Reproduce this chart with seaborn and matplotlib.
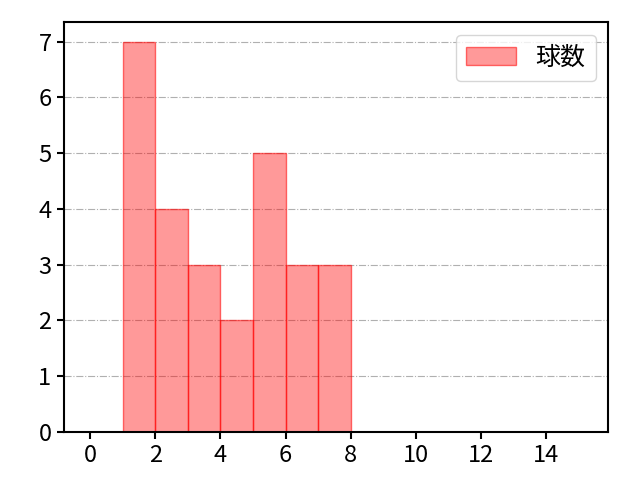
import numpy as np
import pandas as pd
import seaborn as sns
from matplotlib import pyplot as plt

sns.set_theme(style='white')
plt.rcParams['font.family'] = ['Noto Sans CJK JP', 'DejaVu Sans']

# pitch count bins (left edge) and how many appearances fell in each
bin_left = [1, 2, 3, 4, 5, 6, 7]
counts = [7, 4, 3, 2, 5, 3, 3]
label = '球数'

df = pd.DataFrame({'x': bin_left, 'n': counts})

fig, ax = plt.subplots(figsize=(6.4, 4.8), dpi=100)
fig.subplots_adjust(left=0.1, right=0.95, top=0.954, bottom=0.1)

sns.histplot(data=df, x='x', weights='n', bins=list(range(1, 9)), ax=ax,
             color='#ff0000', alpha=0.4, edgecolor=(1, 0, 0, 0.55),
             linewidth=1, label=label)

ax.set_xlim(-0.8, 15.9)
ax.set_ylim(0, 7.35)
ax.set_xticks(np.arange(0, 16, 2))
ax.set_xlabel('')
ax.set_ylabel('')
ax.yaxis.grid(True, linestyle='-.', color='#b0b0b0', linewidth=0.8)
ax.set_axisbelow(True)
for s in ax.spines.values():
    s.set_color('black')
    s.set_linewidth(1.5)
ax.tick_params(axis='both', labelsize=17, length=5, width=1.5, color='black',
               labelcolor='black', bottom=True, left=True, pad=4)
ax.legend(loc='upper right', fontsize=18, labelcolor='black')

fig.savefig('out.png')
